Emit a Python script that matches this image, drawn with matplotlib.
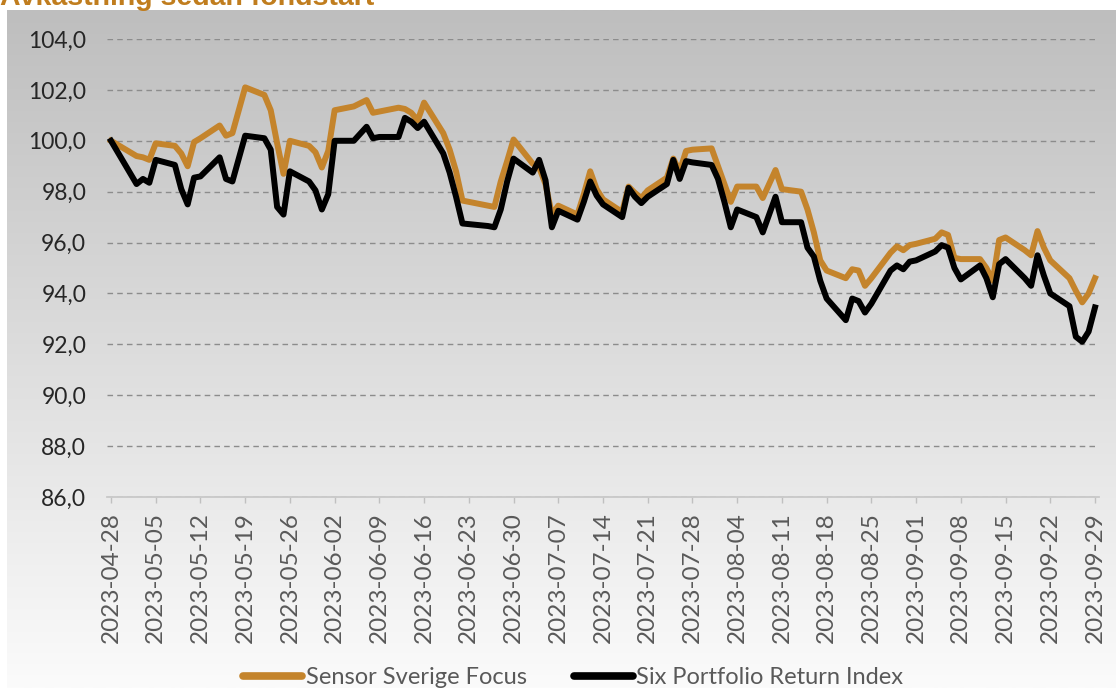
import numpy as np
import pandas as pd
import matplotlib
matplotlib.use("Agg")
import matplotlib.pyplot as plt
from matplotlib.colors import LinearSegmentedColormap
from matplotlib.lines import Line2D
from matplotlib.ticker import FuncFormatter

# trading days (Swedish market holidays removed)
holidays = ["2023-05-01", "2023-05-18", "2023-06-06", "2023-06-23"]
dates = pd.bdate_range("2023-04-28", "2023-09-29", freq="C", holidays=holidays)

sensor = [
    100.0, 99.4, 99.35, 99.25, 99.9, 99.8, 99.5, 99.0, 99.95, 100.1,
    100.6, 100.2, 100.3, 102.1, 101.8, 101.2, 99.9, 98.7, 100.0, 99.8,
    99.55, 98.95, 99.6, 101.2, 101.35, 101.6, 101.1, 101.15, 101.3, 101.25,
    101.1, 100.8, 101.5, 100.3, 99.65, 98.8, 97.65, 97.45, 97.4, 98.4,
    99.2, 100.05, 99.1, 98.95, 98.3, 97.1, 97.45, 97.1, 97.9, 98.8,
    98.1, 97.7, 97.2, 98.2, 97.95, 97.75, 98.05, 98.55, 99.3, 98.8,
    99.6, 99.65, 99.7, 99.0, 98.3, 97.6, 98.2, 98.2, 97.75, 98.3,
    98.85, 98.1, 98.0, 97.3, 96.4, 95.3, 94.9, 94.6, 94.95, 94.9,
    94.3, 94.6, 95.6, 95.85, 95.7, 95.9, 95.95, 96.15, 96.4, 96.3,
    95.4, 95.35, 95.35, 95.0, 94.5, 96.1, 96.2, 95.7, 95.5, 96.45,
    95.8, 95.3, 94.6, 94.1, 93.65, 94.0, 94.6,
]
six = [
    100.0, 98.3, 98.5, 98.35, 99.25, 99.05, 98.1, 97.5, 98.55, 98.6,
    99.35, 98.5, 98.4, 100.2, 100.1, 99.65, 97.4, 97.1, 98.8, 98.4,
    98.05, 97.3, 97.9, 100.0, 100.0, 100.55, 100.1, 100.15, 100.15, 100.9,
    100.75, 100.5, 100.75, 99.5, 98.75, 97.8, 96.75, 96.65, 96.6, 97.3,
    98.4, 99.3, 98.75, 99.25, 98.45, 96.6, 97.25, 96.9, 97.6, 98.4,
    97.85, 97.5, 97.0, 98.15, 97.8, 97.55, 97.8, 98.3, 99.25, 98.5,
    99.2, 99.15, 99.05, 98.5, 97.6, 96.6, 97.3, 97.0, 96.4, 97.1,
    97.8, 96.8, 96.8, 95.8, 95.45, 94.5, 93.8, 92.95, 93.8, 93.7,
    93.25, 93.6, 94.9, 95.1, 94.95, 95.25, 95.3, 95.65, 95.9, 95.8,
    95.0, 94.55, 95.1, 94.6, 93.85, 95.15, 95.35, 94.6, 94.3, 95.5,
    94.7, 94.0, 93.5, 92.3, 92.1, 92.5, 93.45,
]
series_names = ["Sensor Sverige Focus", "Six Portfolio Return Index"]
tick_dates = pd.date_range("2023-04-28", "2023-09-29", freq="7D")
y_ticks = np.arange(86, 105, 2)

orange = "#c4842c"

fig = plt.figure(figsize=(11.16, 6.88), dpi=100)

# grey gradient backdrop
bg = fig.add_axes([7 / 1116, 0, 1 - 7 / 1116, 1 - 10 / 688])
grad = np.linspace(0, 1, 256).reshape(-1, 1)
cmap = LinearSegmentedColormap.from_list("bg", ["#bebebe", "#fbfbfb"])
bg.imshow(grad, aspect="auto", cmap=cmap, extent=[0, 1, 0, 1], origin="upper")
bg.axis("off")

ax = fig.add_axes([107 / 1116, 1 - 497 / 688, (1099 - 107) / 1116, (497 - 39) / 688])
ax.patch.set_alpha(0)

ax.plot(dates, sensor, color=orange, lw=4.3, label=series_names[0])
ax.plot(dates, six, color="black", lw=4.3, label=series_names[1])

ax.set_ylim(86, 104)
ax.set_yticks(y_ticks)
ax.yaxis.set_major_formatter(FuncFormatter(lambda v, p: f"{v:.1f}".replace(".", ",")))
ax.set_xlim(dates[0] - pd.Timedelta(hours=15), dates[-1] + pd.Timedelta(hours=15))
ax.set_xticks(tick_dates)
ax.set_xticklabels([d.strftime("%Y-%m-%d") for d in tick_dates], rotation=90)

ax.yaxis.grid(True, ls=(0, (4, 3)), color="#8c8c8c", lw=1)
ax.set_axisbelow(True)
for s in ["left", "top", "right"]:
    ax.spines[s].set_visible(False)
ax.spines["bottom"].set_color("#c8c8c8")
ax.spines["bottom"].set_linewidth(1.3)

ax.tick_params(axis="y", length=0, pad=15, labelsize=16.5, labelcolor="#262626")
ax.tick_params(axis="x", length=4, width=1, color="#c0c0c0", pad=7,
               labelsize=17.5, labelcolor="#595959")
for lab in ax.get_xticklabels() + ax.get_yticklabels():
    lab.set_family("Lato")

fig.text(0.0, 1 - 5 / 688, "Avkastning sedan fondstart", color="#c07d1e",
         fontsize=20.5, fontweight="bold", family="Liberation Sans", va="baseline")

handles = [Line2D([0], [0], color=orange, lw=5.5, solid_capstyle="round"),
           Line2D([0], [0], color="black", lw=5.5, solid_capstyle="round")]
leg = fig.legend(handles, series_names, loc="center left", ncol=2, frameon=False,
                 bbox_to_anchor=(243 / 1116, 10 / 688), borderpad=0, borderaxespad=0,
                 handlelength=2.5, handletextpad=0.15, columnspacing=2.0,
                 prop={"family": "Lato", "size": 17})
for t in leg.get_texts():
    t.set_color("#595959")

fig.savefig("out.png", dpi=100)
